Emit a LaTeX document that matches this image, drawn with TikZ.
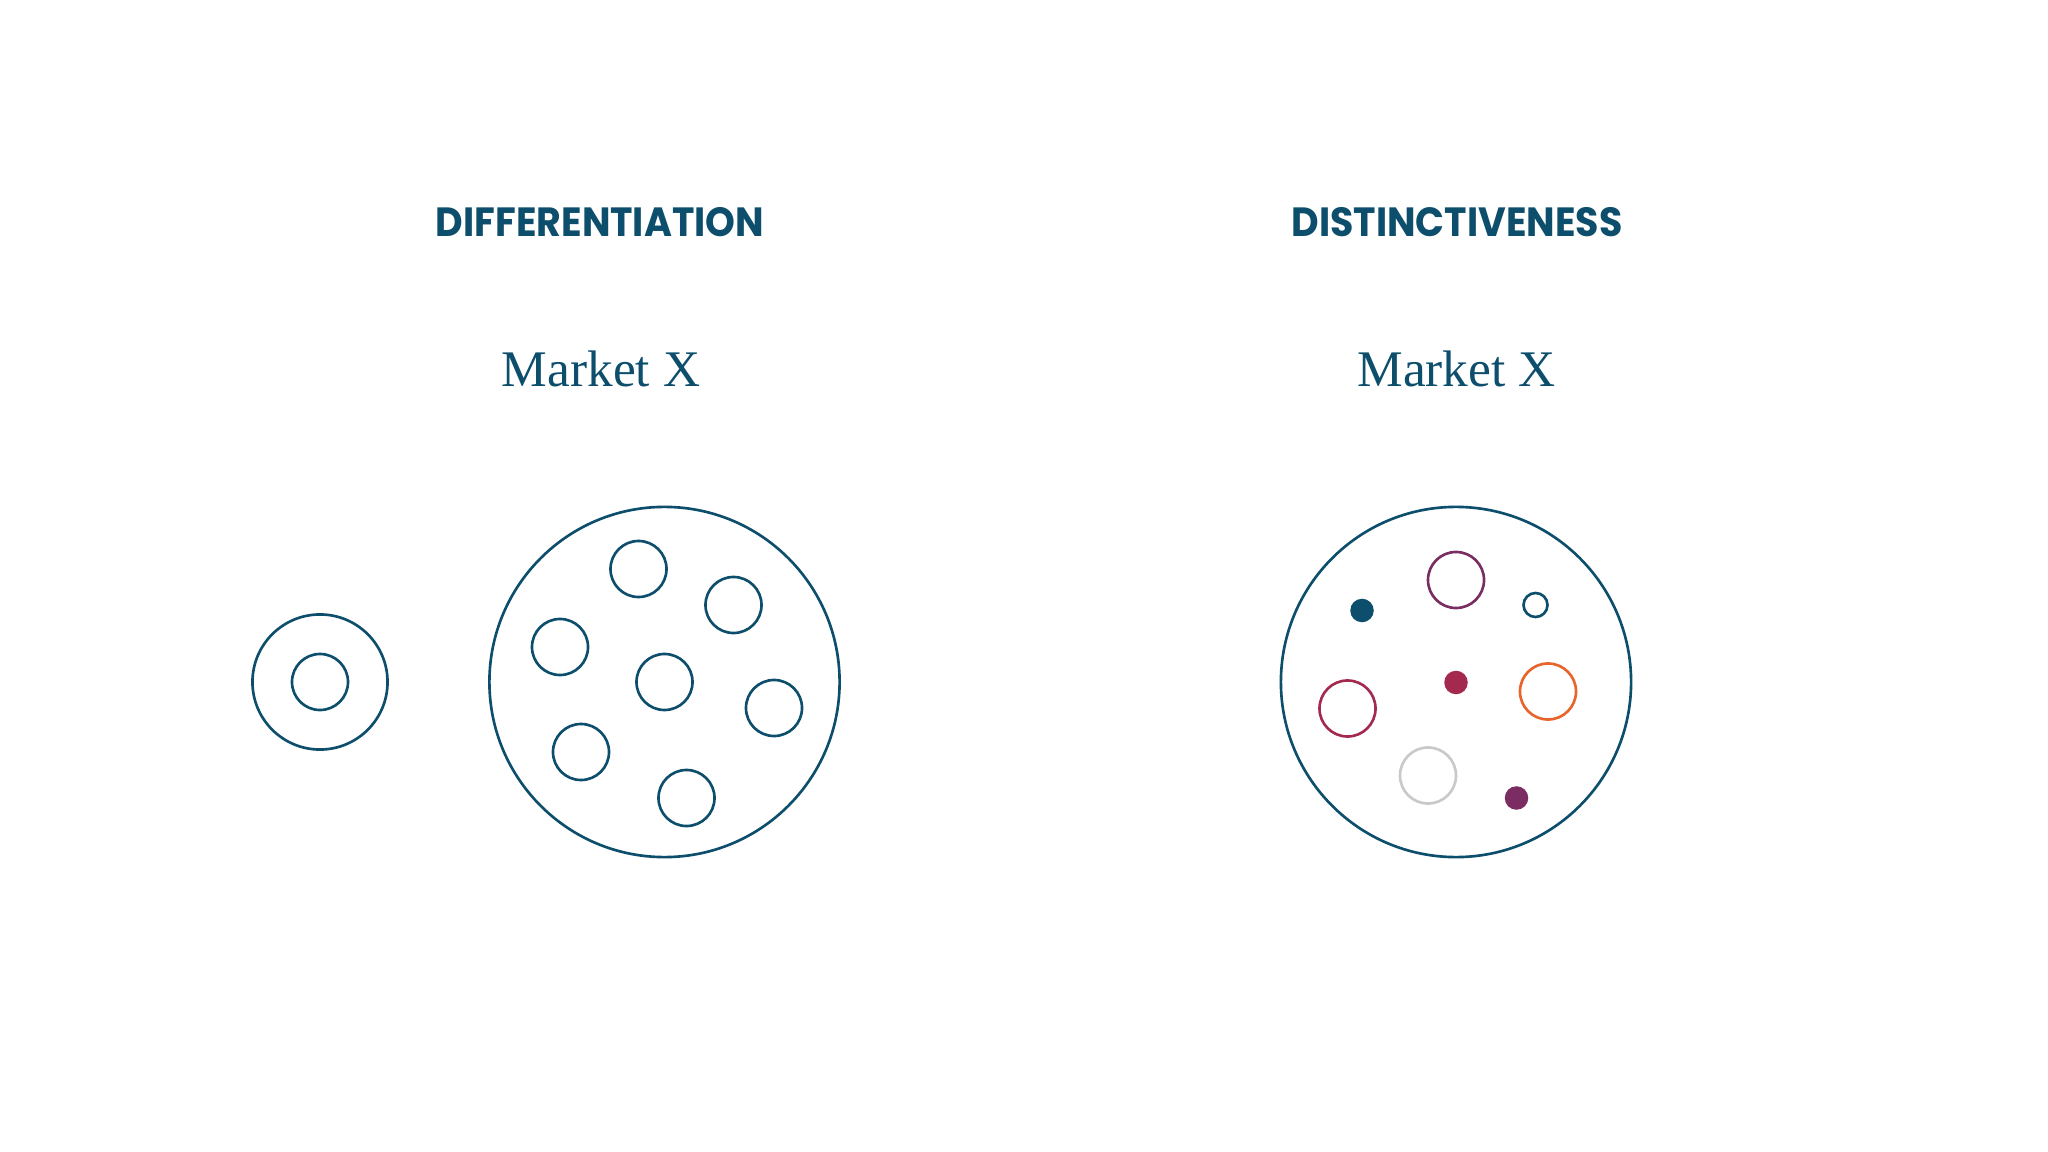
\documentclass[tikz,border=0pt]{standalone}
\usepackage{fontspec}
\setmainfont{Liberation Serif}
\newfontfamily\headfont{Poppins}[UprightFont=* Bold]
\definecolor{navy}{HTML}{0C4E6B}
\definecolor{plum}{HTML}{7A2E5F}
\definecolor{crimson}{HTML}{A3294F}
\definecolor{orng}{HTML}{E8642A}
\definecolor{lgray}{HTML}{C9C9C9}
\definecolor{purp}{HTML}{7B2D63}
\newcommand{\squeezetitle}[1]{\scalebox{0.93}[1]{#1}}
\begin{document}
\begin{tikzpicture}[x=0.01cm,y=-0.01cm,
  ring/.style={circle,draw=#1,line width=0.75pt,inner sep=0pt},
  bigring/.style={ring=navy,minimum size=3.5cm},
  midring/.style={ring=#1,minimum size=0.56cm},
  dot/.style={circle,fill=#1,draw=none,inner sep=0pt,minimum size=0.235cm},
  title/.style={anchor=base,text=navy,font=\headfont\fontsize{11.6}{12}\selectfont},
  market/.style={anchor=base,text=navy,font=\fontsize{14.6}{16}\selectfont}]
\useasboundingbox (0,0) rectangle (2048,1152);
\fill[white] (0,0) rectangle (2048,1152);
% titles
\node[title] (t1) at (600,237) {\squeezetitle{DIFFERENTIATION}};
\node[title] (t2) at (1457,237) {\squeezetitle{DISTINCTIVENESS}};
\node[market] (m1) at (601,387) {Market X};
\node[market] (m2) at (1456.5,387) {Market X};
% left single brand
\node[ring=navy,minimum size=1.35cm] (so) at (320,682) {};
\node[midring=navy] (si) at (320,682) {};
% differentiation market
\node[bigring] (dm) at (664.5,682) {};
\node[midring=navy] (d1) at (638.5,569) {};
\node[midring=navy] (d2) at (733.5,605) {};
\node[midring=navy] (d3) at (560,647) {};
\node[midring=navy] (d4) at (664.5,682) {};
\node[midring=navy] (d5) at (774,708) {};
\node[midring=navy] (d6) at (581,752) {};
\node[midring=navy] (d7) at (686.5,798) {};
% distinctiveness market
\node[bigring] (xm) at (1456,682) {};
\node[midring=plum] (x1) at (1456,580) {};
\node[ring=navy,minimum size=0.24cm] (x2) at (1535.5,605) {};
\node[dot=navy] (x3) at (1362,610.5) {};
\node[dot=crimson] (x4) at (1456,682.5) {};
\node[midring=crimson] (x5) at (1347.5,708.5) {};
\node[midring=orng] (x6) at (1548,691.5) {};
\node[midring=lgray] (x7) at (1428,775.5) {};
\node[dot=purp] (x8) at (1516.5,798) {};
\end{tikzpicture}
\end{document}
